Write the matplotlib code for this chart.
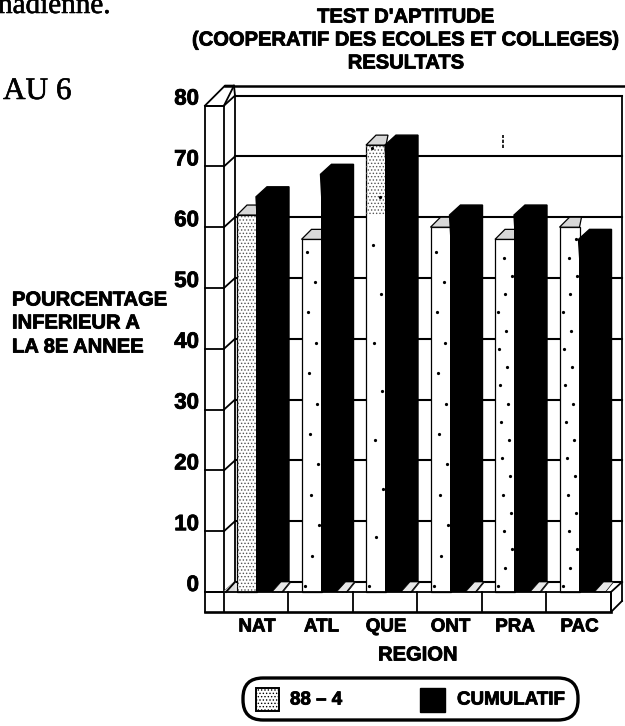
import matplotlib
matplotlib.use("Agg")
import matplotlib.pyplot as plt
import matplotlib.patheffects as pe
from matplotlib.patches import FancyBboxPatch, Rectangle
import numpy as np

plt.rcParams['font.family'] = ['Liberation Sans', 'DejaVu Sans']
plt.rcParams['hatch.linewidth'] = 0.6

regions = ['NAT', 'ATL', 'QUE', 'ONT', 'PRA', 'PAC']
series_88 = [62, 58, 73.5, 60, 58, 60]
cumulatif = [65, 68.7, 73.5, 62, 62, 58]
yticks = [0, 10, 20, 30, 40, 50, 60, 70, 80]
title_lines = ["TEST D'APTITUDE", "(COOPERATIF DES ECOLES ET COLLEGES)", "RESULTATS"]
ylabel_lines = ['POURCENTAGE', 'INFERIEUR A', 'LA 8E ANNEE']
speck_rows = [0, 5, 8, 5, 3, 3]  # spacing of the loose specks on each bar, 0 = dense hatch

W, H = 625, 726
y0_px = 592       # pixel row of value 0
unit_px = 6.08    # pixels per unit
dx = 11           # depth of the 3d look, px
dy = 10 / unit_px
lw = 1.3
heavy = [pe.withStroke(linewidth=0.6, foreground='k')]


def v(px):
    # pixel row to value
    return (y0_px - px) / unit_px


def label(x, py, s, size, ha='center'):
    ax.text(x, v(py), s, ha=ha, va='center', fontsize=size, fontweight='bold',
            path_effects=heavy, zorder=7)


fig = plt.figure(figsize=(W / 100, H / 100), dpi=100)
ax = fig.add_axes([0, 0, 1, 1])
ax.set_xlim(0, W)
ax.set_ylim(v(H), v(0))
ax.axis('off')

# walls
left, front_r = 205, 224
back_l, right = front_r + dx, 622
for t in yticks:
    ax.plot([left, front_r], [t, t], color='k', lw=lw, zorder=2)
    ax.plot([front_r, back_l], [t, t + dy], color='k', lw=lw, zorder=2)
    ax.plot([back_l, right], [t + dy, t + dy], color='k', lw=lw + 0.2, zorder=1)
ax.plot([left, left], [v(612), 80], color='k', lw=lw, zorder=2)
ax.plot([front_r, front_r], [v(612), 80], color='k', lw=lw, zorder=2)
ax.plot([back_l, back_l], [dy, 80 + dy], color='k', lw=lw, zorder=2)
ax.plot([right, right], [dy, 80 + dy], color='k', lw=lw, zorder=1)
# top of the side panel
ax.plot([left, front_r], [80, 80], color='k', lw=lw)
ax.plot([left, left + 20, back_l - 1, front_r], [80, 80 + 2 * dy, 80 + 2 * dy, 80], color='k', lw=lw)
ax.plot([left + 20, W], [80 + 2 * dy, 80 + 2 * dy], color='k', lw=lw + 0.5)
ax.plot([back_l - 1, back_l], [80 + 2 * dy, 80 + dy], color='k', lw=lw)

# floor band
ax.plot([left, 611], [0, 0], color='k', lw=lw, zorder=6)
ax.plot([left, 611], [v(612), v(612)], color='k', lw=lw + 0.6, zorder=6)
ax.plot([611, 611], [v(612), 0], color='k', lw=lw, zorder=6)
ax.plot([611, right], [0, dy], color='k', lw=lw, zorder=6)
ax.plot([611, right], [v(612), v(601)], color='k', lw=lw, zorder=6)
ax.plot([right, right], [v(601), dy], color='k', lw=lw, zorder=6)

# bars
step = 64.5
x_grey = 237 + np.arange(len(regions)) * step
grey_w, black_w = 20, 22
ax.bar(x_grey, series_88, width=grey_w, align='edge', facecolor='white', edgecolor='k',
       linewidth=0.9, zorder=3)
# dense dots on NAT and on the top of QUE, loose specks elsewhere
ax.bar(x_grey[0], series_88[0], width=grey_w, align='edge', facecolor='none', edgecolor='#555555',
       linewidth=0, hatch='.....', zorder=3)
ax.bar(x_grey[2], series_88[2] - 62, bottom=62, width=grey_w, align='edge', facecolor='none',
       edgecolor='#555555', linewidth=0, hatch='.....', zorder=3)
for x, g, row in zip(x_grey, series_88, speck_rows):
    if row:
        ys = np.arange(1, g, row)
        xs = x + 3 + (np.arange(len(ys)) * 7) % 15
        ax.plot(xs, ys, ls='none', marker='.', ms=2.6, color='k', zorder=3)
for x, g in zip(x_grey, series_88):
    ax.fill([x, x + dx - 1, x + grey_w + 2, x + grey_w], [g, g + dy, g + dy, g], facecolor='#d8d8d8',
            edgecolor='k', lw=0.9, zorder=3)
x_black = x_grey + grey_w - 1
ax.bar(x_black, cumulatif, width=black_w, align='edge', color='k', zorder=4)
for x, c in zip(x_black, cumulatif):
    xb = x + black_w
    ax.fill([x, x + dx, xb + dx, xb + dx, xb], [c, c + dy, c + dy, dy, 0], color='k', zorder=4)

# floor tiles and dividers between the groups
for i, x in enumerate(x_grey):
    xe = x + grey_w + black_w - 1
    ax.plot([xe + 10, xe + 10], [v(612), 0], color='k', lw=lw, zorder=6)
    ax.fill([xe - 6, xe + 3, xe + 13, xe + 5], [0, dy, dy, 0], facecolor='#e8e8e8', edgecolor='k', lw=0.5, zorder=5)
    if i < len(regions) - 1:
        ax.plot([xe + 4, xe + 12], [0, dy], color='k', lw=0.8, zorder=5)
ax.fill([front_r, back_l, back_l, front_r + 2], [0, dy, 0, 0], color='#dddddd', zorder=3)
ax.plot([front_r + 2, back_l], [0, dy], color='k', lw=lw, zorder=3)

# speck on the back wall
ax.plot([503, 503], [v(148), v(135)], color='k', lw=1.2, ls=(0, (2, 1)), zorder=1)

# tick labels sit a little above their line
for t in yticks:
    ax.text(199, t + 6.5 / unit_px, str(t), ha='right', va='center', fontsize=16, fontweight='bold',
            path_effects=heavy)
for x, r in zip(x_grey, regions):
    label(x + 20, 627, r, 13.5)
label(418, 655, 'REGION', 14.5)

for line, py in zip(title_lines, [17, 40, 63]):
    label(406, py, line, 14.5)
for line, py in zip(ylabel_lines, [300, 323, 347]):
    label(12, py, line, 14.5, ha='left')

# text of the page around the chart
serif = [pe.withStroke(linewidth=0.4, foreground='k')]
ax.text(-2, v(13), 'nadienne.', ha='left', va='baseline', fontsize=21, family='Liberation Serif', path_effects=serif)
ax.text(3, v(99), 'AU 6', ha='left', va='baseline', fontsize=22.5, family='Liberation Serif', path_effects=serif)

# legend
ax.add_patch(FancyBboxPatch((263, v(700)), 295, v(698) - v(700), boxstyle='round,pad=20,rounding_size=20',
                            facecolor='white', edgecolor='k', lw=2.4, zorder=2,
                            mutation_aspect=1 / unit_px))
ax.add_patch(Rectangle((256, v(711)), 23, v(688) - v(711), facecolor='white', edgecolor='k', hatch='.....',
                       lw=1.4, zorder=3))
ax.add_patch(Rectangle((420, v(712)), 25, v(688) - v(712), facecolor='k', edgecolor='k', zorder=3))
label(290, 700, '88 \u2013 4', 13.5, ha='left')
label(457, 700, 'CUMULATIF', 13.5, ha='left')

fig.savefig('out.png', dpi=100)
